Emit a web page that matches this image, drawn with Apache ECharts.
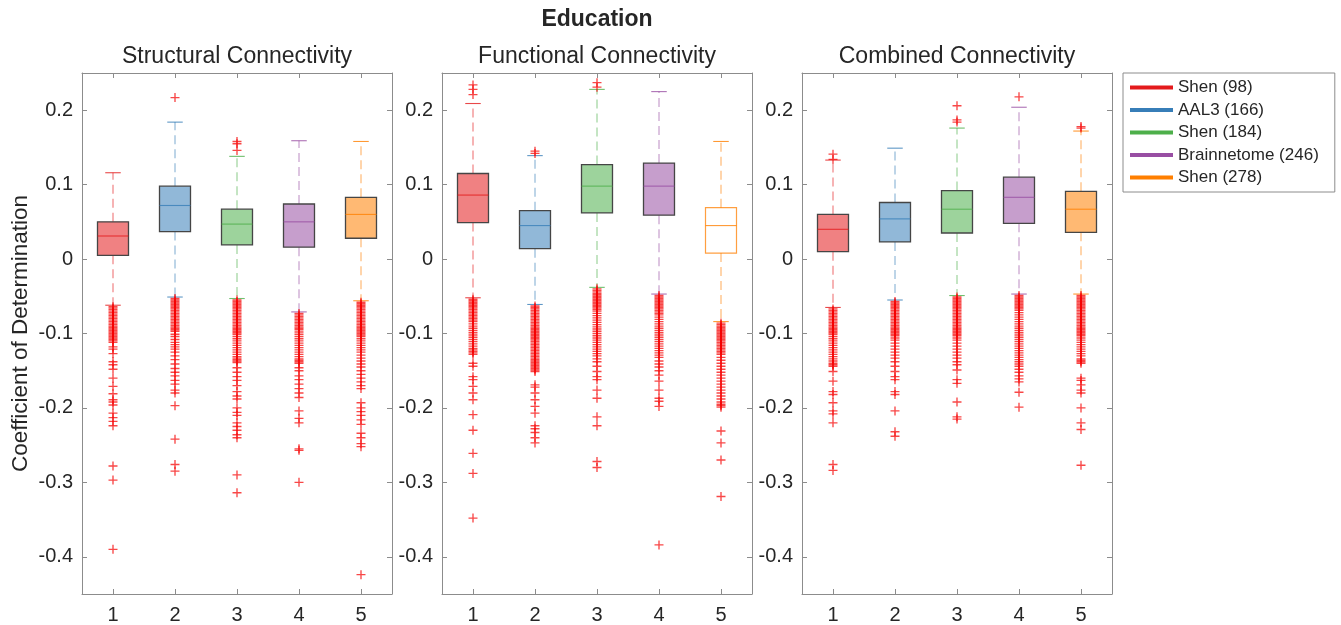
<!DOCTYPE html>
<html>
<head>
<meta charset="utf-8">
<title>Education</title>
<script src="https://cdn.jsdelivr.net/npm/echarts@6/dist/echarts.min.js"></script>
<style>
  html, body { margin: 0; padding: 0; background: #fff; }
  #chart { width: 1341px; height: 625px; }
</style>
</head>
<body>
<div id="chart"></div>
<script>
// Model index on the x axis and the atlas drawn for it
const CATEGORIES = ['1', '2', '3', '4', '5'];
const ATLASES = ['Shen (98)', 'AAL3 (166)', 'Shen (184)', 'Brainnetome (246)', 'Shen (278)'];
const PANEL_TITLES = ['Structural Connectivity', 'Functional Connectivity', 'Combined Connectivity'];
const Y_TICKS = [-0.4, -0.3, -0.2, -0.1, 0, 0.1, 0.2];

// Box summaries per atlas: [lower whisker, Q1, median, Q3, upper whisker]
const structuralStats = [
  [-0.062, 0.005, 0.031, 0.050, 0.116],
  [-0.051, 0.037, 0.072, 0.098, 0.184],
  [-0.053, 0.019, 0.047, 0.067, 0.138],
  [-0.071, 0.016, 0.050, 0.074, 0.159],
  [-0.056, 0.028, 0.060, 0.083, 0.158]
];
const functionalStats = [
  [-0.052, 0.049, 0.086, 0.115, 0.209],
  [-0.061, 0.014, 0.045, 0.065, 0.139],
  [-0.038, 0.062, 0.098, 0.127, 0.228],
  [-0.047, 0.059, 0.098, 0.129, 0.225],
  [-0.084, 0.008, 0.045, 0.069, 0.158]
];
const combinedStats = [
  [-0.065, 0.010, 0.040, 0.060, 0.133],
  [-0.055, 0.023, 0.054, 0.076, 0.149],
  [-0.049, 0.035, 0.067, 0.092, 0.176],
  [-0.047, 0.048, 0.083, 0.110, 0.204],
  [-0.047, 0.036, 0.067, 0.091, 0.172]
];

// Outliers per atlas
const structuralOutliers = [
  [-0.064, -0.066, -0.068, -0.070, -0.072, -0.074, -0.076, -0.078, -0.080, -0.082, -0.084, -0.086, -0.088, -0.090, -0.092, -0.094, -0.096, -0.098, -0.100, -0.102, -0.104, -0.106, -0.108, -0.110, -0.112,
   -0.118, -0.121, -0.127, -0.138, -0.142, -0.148, -0.160, -0.171, -0.181, -0.189, -0.192, -0.196, -0.207, -0.213, -0.218, -0.224, -0.278, -0.297, -0.390],
  [0.217,
   -0.053, -0.055, -0.057, -0.059, -0.061, -0.063, -0.065, -0.067, -0.069, -0.071, -0.073, -0.075, -0.077, -0.079, -0.081, -0.083, -0.085, -0.087, -0.089, -0.091, -0.093, -0.095, -0.097,
   -0.101, -0.104, -0.108, -0.112, -0.115, -0.118, -0.121, -0.125, -0.130, -0.135, -0.141, -0.147, -0.152, -0.157, -0.163, -0.168, -0.176, -0.180, -0.197, -0.242, -0.276, -0.285],
  [0.146, 0.155, 0.158,
   -0.055, -0.057, -0.059, -0.061, -0.063, -0.065, -0.067, -0.069, -0.071, -0.073, -0.075, -0.077, -0.079, -0.081, -0.083, -0.085, -0.087, -0.089, -0.091, -0.093, -0.095, -0.097, -0.099, -0.101,
   -0.104, -0.107, -0.110, -0.113, -0.116, -0.119, -0.122, -0.125, -0.128, -0.131, -0.133, -0.135, -0.137, -0.139,
   -0.146, -0.152, -0.158, -0.163, -0.170, -0.178, -0.184, -0.188, -0.200, -0.206, -0.210, -0.220, -0.225, -0.230, -0.236, -0.240, -0.290, -0.314],
  [-0.073, -0.075, -0.077, -0.079, -0.081, -0.083, -0.085, -0.087, -0.089, -0.091, -0.093, -0.095,
   -0.098, -0.101, -0.104, -0.107, -0.110, -0.113, -0.116, -0.119, -0.122, -0.125, -0.128, -0.131, -0.134, -0.136, -0.138, -0.140,
   -0.146, -0.150, -0.157, -0.162, -0.168, -0.174, -0.180, -0.186, -0.204, -0.214, -0.220, -0.255, -0.257, -0.300],
  [-0.058, -0.060, -0.062, -0.064, -0.066, -0.068, -0.070, -0.072, -0.074, -0.076, -0.078, -0.080, -0.082, -0.084, -0.086, -0.088, -0.090, -0.092, -0.094, -0.096, -0.098, -0.100, -0.102, -0.104,
   -0.107, -0.110, -0.113, -0.116, -0.119, -0.122, -0.125, -0.129, -0.133, -0.137, -0.141, -0.145, -0.150, -0.155, -0.160, -0.165, -0.170, -0.174,
   -0.193, -0.200, -0.205, -0.210, -0.216, -0.222, -0.234, -0.240, -0.248, -0.252, -0.424]
];
const functionalOutliers = [
  [0.221, 0.228, 0.234,
   -0.054, -0.056, -0.058, -0.060, -0.062, -0.064, -0.066, -0.068, -0.070, -0.072, -0.074, -0.076, -0.078, -0.080, -0.082, -0.084,
   -0.087, -0.090, -0.093, -0.096, -0.099, -0.102, -0.105, -0.108, -0.111, -0.114, -0.117, -0.120, -0.122, -0.124, -0.126, -0.128,
   -0.140, -0.144, -0.158, -0.162, -0.171, -0.180, -0.189, -0.209, -0.230, -0.261, -0.288, -0.348],
  [0.142, 0.145,
   -0.063, -0.065, -0.067, -0.069, -0.071, -0.073, -0.075, -0.077, -0.079, -0.081, -0.083, -0.085, -0.087, -0.089, -0.091, -0.093, -0.095, -0.097, -0.099, -0.101, -0.103, -0.105,
   -0.107, -0.109, -0.111, -0.113, -0.115, -0.117, -0.119, -0.121, -0.123, -0.125, -0.127, -0.129, -0.131, -0.133, -0.135, -0.137, -0.139, -0.141, -0.143, -0.145, -0.147, -0.149, -0.151,
   -0.169, -0.172, -0.180, -0.189, -0.198, -0.207, -0.224, -0.228, -0.233, -0.240, -0.247],
  [0.231, 0.237,
   -0.040, -0.042, -0.044, -0.046, -0.048, -0.050, -0.052, -0.054, -0.056, -0.058, -0.060, -0.062, -0.064, -0.066, -0.068, -0.070,
   -0.073, -0.076, -0.079, -0.082, -0.085, -0.088, -0.091, -0.094, -0.097, -0.100, -0.103, -0.106, -0.109, -0.112, -0.115, -0.118, -0.121, -0.124, -0.127, -0.130,
   -0.134, -0.138, -0.144, -0.151, -0.158, -0.162, -0.176, -0.187, -0.212, -0.224, -0.272, -0.280],
  [-0.049, -0.051, -0.053, -0.055, -0.057, -0.059, -0.061, -0.063, -0.065, -0.067, -0.069, -0.071, -0.073, -0.075,
   -0.078, -0.081, -0.084, -0.087, -0.090, -0.093, -0.096, -0.099, -0.102, -0.105, -0.108, -0.111, -0.114, -0.117, -0.120, -0.123, -0.126, -0.129, -0.132,
   -0.137, -0.141, -0.145, -0.150, -0.156, -0.164, -0.176, -0.187, -0.191, -0.198, -0.384],
  [-0.086, -0.088, -0.090, -0.092, -0.094, -0.096, -0.098, -0.100, -0.102, -0.104, -0.106, -0.108, -0.110, -0.112, -0.114, -0.116, -0.118, -0.120, -0.122, -0.124, -0.126, -0.128,
   -0.132, -0.136, -0.140, -0.144, -0.148, -0.152, -0.156, -0.160, -0.164, -0.168, -0.172, -0.176, -0.180, -0.184, -0.188, -0.192, -0.195, -0.197, -0.199,
   -0.231, -0.247, -0.270, -0.319]
];
const combinedOutliers = [
  [0.134, 0.141,
   -0.067, -0.069, -0.071, -0.073, -0.075, -0.077, -0.079, -0.081, -0.083, -0.085, -0.087, -0.089, -0.091, -0.093, -0.095, -0.097, -0.099, -0.101,
   -0.104, -0.107, -0.110, -0.113, -0.116, -0.119, -0.122, -0.125, -0.128, -0.131, -0.134, -0.137, -0.140, -0.142, -0.144,
   -0.151, -0.164, -0.178, -0.182, -0.193, -0.204, -0.208, -0.220, -0.276, -0.284],
  [-0.057, -0.059, -0.061, -0.063, -0.065, -0.067, -0.069, -0.071, -0.073, -0.075, -0.077, -0.079, -0.081, -0.083, -0.085, -0.087, -0.089, -0.091, -0.093, -0.095, -0.097, -0.099, -0.101, -0.103,
   -0.106, -0.109, -0.113, -0.117, -0.121, -0.125, -0.129, -0.133, -0.138, -0.144, -0.151, -0.158, -0.162, -0.178, -0.182, -0.204, -0.232, -0.238],
  [0.184, 0.187, 0.206,
   -0.051, -0.053, -0.055, -0.057, -0.059, -0.061, -0.063, -0.065, -0.067, -0.069, -0.071, -0.073, -0.075, -0.077, -0.079, -0.081, -0.083, -0.085, -0.087, -0.089, -0.091, -0.093, -0.095, -0.097, -0.099, -0.101, -0.103,
   -0.106, -0.109, -0.113, -0.117, -0.121, -0.125, -0.129, -0.133, -0.138, -0.142, -0.149, -0.162, -0.167, -0.192, -0.212, -0.215],
  [0.218,
   -0.049, -0.051, -0.053, -0.055, -0.057, -0.059, -0.061, -0.063, -0.065, -0.067, -0.069,
   -0.072, -0.075, -0.078, -0.081, -0.084, -0.087, -0.090, -0.093, -0.096, -0.099, -0.102, -0.105, -0.108, -0.111, -0.114, -0.117, -0.120, -0.123, -0.126, -0.129, -0.132, -0.135, -0.138, -0.141, -0.144,
   -0.148, -0.152, -0.157, -0.161, -0.165, -0.179, -0.199],
  [0.176, 0.178,
   -0.049, -0.051, -0.053, -0.055, -0.057, -0.059, -0.061, -0.063, -0.065, -0.067, -0.069, -0.071, -0.073, -0.075, -0.077, -0.079, -0.081, -0.083, -0.085, -0.087, -0.089, -0.091, -0.093, -0.095, -0.097, -0.099, -0.101, -0.103,
   -0.106, -0.109, -0.112, -0.115, -0.118, -0.121, -0.124, -0.127, -0.130, -0.134, -0.136, -0.138, -0.140,
   -0.160, -0.163, -0.169, -0.176, -0.180, -0.200, -0.220, -0.229, -0.277]
];

// ---- styling ----
const ATLAS_COLORS = ['#e41a1c', '#377eb8', '#4daf4a', '#984ea3', '#ff7f00'];
const FONT = '"Liberation Sans", Arial, Helvetica, sans-serif';
const TEXT = '#262626';
const AXIS = '#8c8c8c';
const PANEL_LEFT = [82, 442, 802];
const PANEL_WIDTH = 310;
const PANEL_TOP = 73;
const PANEL_HEIGHT = 522;
// boxes drawn as outline only (panel index -> atlas indices)
const HOLLOW = { 1: [4] };

function rgba(hex, a) {
  const n = parseInt(hex.slice(1), 16);
  return 'rgba(' + (n >> 16 & 255) + ',' + (n >> 8 & 255) + ',' + (n & 255) + ',' + a + ')';
}

function boxRenderer(color, hollow) {
  return function (params, api) {
    const i = api.value(0);
    const low = api.coord([i, api.value(1)]);
    const q1 = api.coord([i, api.value(2)]);
    const med = api.coord([i, api.value(3)]);
    const q3 = api.coord([i, api.value(4)]);
    const high = api.coord([i, api.value(5)]);
    const band = api.size([1, 0])[0];
    const cx = med[0];
    const hw = band * 0.25;
    const cw = band * 0.125;
    const whisker = { stroke: rgba(color, 0.6), lineWidth: 1.1, lineDash: [9, 5] };
    const cap = { stroke: rgba(color, 0.8), lineWidth: 1.1 };
    return {
      type: 'group',
      children: [
        { type: 'line', shape: { x1: cx, y1: q3[1], x2: cx, y2: high[1] }, style: whisker },
        { type: 'line', shape: { x1: cx, y1: q1[1], x2: cx, y2: low[1] }, style: whisker },
        { type: 'line', shape: { x1: cx - cw, y1: high[1], x2: cx + cw, y2: high[1] }, style: cap },
        { type: 'line', shape: { x1: cx - cw, y1: low[1], x2: cx + cw, y2: low[1] }, style: cap },
        {
          type: 'rect',
          shape: { x: cx - hw, y: q3[1], width: hw * 2, height: q1[1] - q3[1] },
          style: hollow
            ? { fill: 'none', stroke: rgba(color, 0.75), lineWidth: 1.2 }
            : { fill: rgba(color, 0.55), stroke: '#454545', lineWidth: 1.3 }
        },
        { type: 'line', shape: { x1: cx - hw, y1: med[1], x2: cx + hw, y2: med[1] }, style: { stroke: rgba(color, 0.8), lineWidth: 1.1 } }
      ]
    };
  };
}

const panels = [
  { stats: structuralStats, outliers: structuralOutliers },
  { stats: functionalStats, outliers: functionalOutliers },
  { stats: combinedStats, outliers: combinedOutliers }
];

const grids = [], xAxes = [], yAxes = [], series = [], titles = [];

titles.push({
  text: 'Education', left: 597, top: 8, textAlign: 'center', padding: 0,
  textStyle: { fontFamily: FONT, fontSize: 23, fontWeight: 'bold', color: TEXT, lineHeight: 24 }
});

panels.forEach((p, k) => {
  grids.push({ left: PANEL_LEFT[k], top: PANEL_TOP, width: PANEL_WIDTH, height: PANEL_HEIGHT, containLabel: false });
  titles.push({
    text: PANEL_TITLES[k], left: PANEL_LEFT[k] + PANEL_WIDTH / 2, top: 45, textAlign: 'center', padding: 0,
    textStyle: { fontFamily: FONT, fontSize: 23, fontWeight: 'normal', color: TEXT, lineHeight: 24 }
  });
  const tick = { show: true, inside: true, length: 5, alignWithLabel: true, lineStyle: { color: AXIS, width: 1 } };
  const line = { show: true, onZero: false, lineStyle: { color: AXIS, width: 1 } };
  xAxes.push({
    type: 'category', gridIndex: k, data: CATEGORIES, position: 'bottom', boundaryGap: true,
    axisLine: line, axisTick: tick,
    axisLabel: { fontFamily: FONT, fontSize: 20, color: TEXT, margin: 11 },
    splitLine: { show: false }
  });
  xAxes.push({
    type: 'category', gridIndex: k, data: CATEGORIES, position: 'top', boundaryGap: true,
    axisLine: line, axisTick: tick, axisLabel: { show: false }, splitLine: { show: false }
  });
  const yTick = { show: true, inside: true, length: 5, customValues: Y_TICKS, lineStyle: { color: AXIS, width: 1 } };
  yAxes.push({
    type: 'value', gridIndex: k, min: -0.45, max: 0.25, position: 'left',
    axisLine: line, axisTick: yTick,
    axisLabel: { customValues: Y_TICKS, fontFamily: FONT, fontSize: 20, color: TEXT, margin: 9, formatter: v => String(v) },
    splitLine: { show: false },
    name: k === 0 ? 'Coefficient of Determination' : '',
    nameLocation: 'middle', nameGap: 50, nameRotate: 90,
    nameTextStyle: { fontFamily: FONT, fontSize: 22.5, color: TEXT }
  });
  yAxes.push({
    type: 'value', gridIndex: k, min: -0.45, max: 0.25, position: 'right',
    axisLine: line, axisTick: yTick, axisLabel: { show: false }, splitLine: { show: false }
  });

  const hollowSet = HOLLOW[k] || [];
  p.stats.forEach((s, i) => {
    series.push({
      type: 'custom',
      name: ATLASES[i],
      xAxisIndex: 2 * k, yAxisIndex: 2 * k,
      itemStyle: { color: ATLAS_COLORS[i] },
      encode: { x: 0, y: [1, 2, 3, 4, 5] },
      data: [[i].concat(s)],
      renderItem: boxRenderer(ATLAS_COLORS[i], hollowSet.indexOf(i) >= 0),
      z: 2,
      silent: true
    });
  });

  const pts = [];
  p.outliers.forEach((vals, i) => vals.forEach(v => pts.push([i, v])));
  series.push({
    type: 'scatter',
    name: 'outliers-' + k,
    xAxisIndex: 2 * k, yAxisIndex: 2 * k,
    symbol: 'path://M0,5L10,5M5,0L5,10',
    symbolSize: 9,
    itemStyle: { color: 'rgba(0,0,0,0)', borderColor: 'rgba(245,0,0,0.9)', borderWidth: 1.35 },
    data: pts,
    z: 3,
    silent: true,
    animation: false
  });
});

const chart = echarts.init(document.getElementById('chart'), null, { renderer: 'canvas' });
chart.setOption({
  animation: false,
  backgroundColor: '#fff',
  title: titles,
  grid: grids,
  xAxis: xAxes,
  yAxis: yAxes,
  legend: {
    data: ATLASES.map((n, i) => ({ name: n, itemStyle: { color: ATLAS_COLORS[i] } })),
    orient: 'vertical', left: 1123, top: 73,
    icon: 'rect', itemWidth: 43, itemHeight: 4, itemGap: 5.5,
    selectedMode: false,
    backgroundColor: '#fff', borderColor: AXIS, borderWidth: 1,
    padding: [6, 16, 6, 7],
    textStyle: { fontFamily: FONT, fontSize: 17, color: TEXT, lineHeight: 17 }
  },
  series: series
});
</script>
</body>
</html>
